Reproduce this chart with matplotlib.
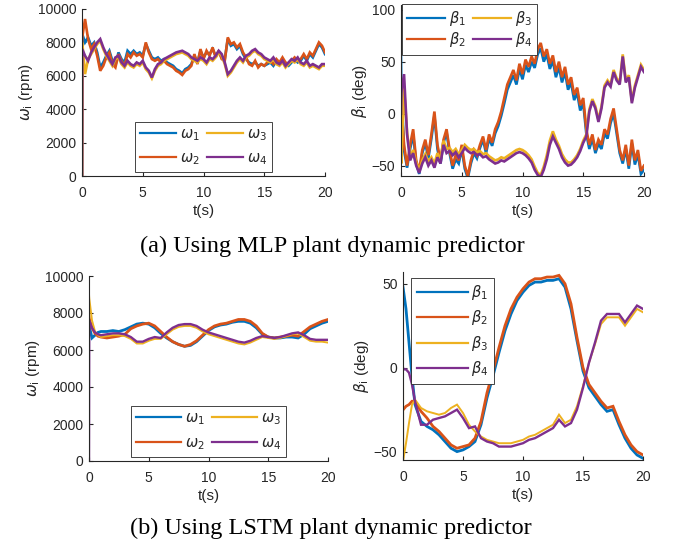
import matplotlib
matplotlib.use("Agg")
import matplotlib.pyplot as plt
import numpy as np

# ---- time grids ----
T_MLP = np.concatenate([[0, 0.02], np.arange(0.25, 20.01, 0.25)])
T_LSTM = np.concatenate([[0, 0.02, 0.25, 0.5, 0.75, 1.0], np.arange(1.5, 20.01, 0.5)])

# ---- (a) MLP: rotor speeds (rpm) ----
mlp_w1 = [0, 8500,
          8000, 8300, 7800, 8000, 7400, 6500, 6800, 7200, 7500, 6900, 6600, 7400,
          7000, 6800, 7500, 7300, 7500, 7300, 7400, 7200, 7900, 7500, 7100, 7000,
          7100, 6900, 7000, 6800, 6700, 6600, 6400, 6300, 6150, 6400, 6500, 6700,
          7200, 6800, 7500, 7100, 7400, 7300, 7600, 7200, 7400, 7100, 7000, 8200,
          7800, 7900, 7600, 7800, 7300, 7000, 6800, 6700, 6800, 6600, 6700, 6600,
          6700, 6800, 6600, 6900, 6700, 7000, 6700, 6600, 6800, 7000, 6800, 6900,
          7200, 6900, 7300, 7100, 7500, 7900, 7700, 7300]
mlp_w2 = [0, 8300,
          9400, 8200, 7600, 7900, 7200, 6300, 6600, 7100, 7400, 6700, 6500, 7300,
          6900, 6600, 7300, 7100, 7400, 7200, 7300, 7100, 8000, 7400, 7000, 6900,
          7000, 6800, 6900, 6700, 6600, 6500, 6300, 6200, 6050, 6300, 6400, 6600,
          7300, 6700, 7600, 7000, 7500, 7200, 7700, 7100, 7500, 7000, 6900, 8300,
          7900, 8000, 7700, 7900, 7400, 7100, 6700, 6600, 6900, 6500, 6700, 6600,
          6800, 6900, 6700, 7000, 6800, 7100, 6800, 6700, 6900, 7100, 6900, 7000,
          7300, 7000, 7400, 7200, 7600, 8000, 7800, 7400]
mlp_w3 = [0, 8000,
          6100, 7000, 7300, 7600, 7900, 8100, 7600, 7200, 6900, 6600, 7000, 7100,
          6700, 6500, 6800, 6600, 6500, 6700, 6600, 6800, 6400, 6200, 5850, 6300,
          6600, 6700, 6900, 7000, 7100, 7200, 7300, 7350, 7400, 7300, 7200, 7000,
          6900, 6800, 7000, 6900, 6700, 7000, 6900, 7100, 7400, 7200, 6700, 6000,
          6200, 6500, 6800, 7000, 6800, 7100, 7200, 7400, 7500, 7300, 7200, 7000,
          6900, 6800, 7000, 6700, 6600, 6800, 6500, 6700, 6900, 6800, 7000, 6700,
          6600, 6800, 6500, 6600, 6500, 6400, 6600, 6600]
mlp_w4 = [0, 7600,
          7200, 6900, 7400, 7700, 8000, 8200, 7700, 7300, 7000, 6700, 7100, 7200,
          6800, 6600, 6900, 6700, 6600, 6800, 6700, 6900, 6500, 6300, 5900, 6400,
          6700, 6800, 7000, 7100, 7200, 7300, 7400, 7450, 7500, 7400, 7300, 7100,
          7000, 6900, 7100, 7000, 6800, 7100, 7000, 7200, 7500, 7300, 6800, 6100,
          6300, 6600, 6900, 7100, 6900, 7200, 7300, 7500, 7600, 7400, 7300, 7100,
          7000, 6900, 7100, 6800, 6700, 6900, 6600, 6800, 7000, 6900, 7100, 6800,
          6700, 6900, 6600, 6700, 6600, 6500, 6700, 6700]

# ---- (a) MLP: tilt angles (deg) ----
mlp_b1 = [55, 30,
          -35, -52, -34, -20, -48, -58, -38, -28, -43, -24, -2, -34,
          -48, -28, -18, -38, -53, -44, -48, -34, -53, -62, -48, -38,
          -43, -33, -25, -38, -24, -31, -19, -12, -2, 10, 23, 30,
          37, 28, 43, 33, 47, 40, 50, 44, 57, 63, 50, 57,
          43, 51, 35, 45, 30, 40, 23, 30, 13, 20, 3, 10,
          -19, -34, -24, -38, -29, -34, -19, -24, -9, 0, -19, -38,
          -48, -34, -53, -29, -49, -39, -58, -54]
mlp_b2 = [20, 10,
          -30, -50, -30, -15, -45, -55, -35, -25, -40, -20, 2, -30,
          -45, -25, -15, -35, -50, -40, -45, -30, -50, -60, -45, -35,
          -40, -30, -22, -35, -20, -28, -15, -8, 2, 15, 28, 35,
          42, 32, 48, 38, 52, 45, 55, 48, 62, 68, 55, 62,
          48, 56, 40, 50, 35, 45, 28, 35, 18, 25, 8, 15,
          -15, -30, -20, -35, -25, -30, -15, -20, -5, 5, -15, -35,
          -45, -30, -50, -25, -45, -35, -55, -50]
mlp_b3 = [0, -48,
          25, -18, -42, -35, -47, -54, -45, -39, -46, -42, -48, -38,
          -44, -26, -34, -33, -37, -34, -39, -35, -30, -33, -35, -34,
          -37, -36, -39, -38, -41, -43, -45, -44, -42, -43, -41, -39,
          -37, -35, -34, -35, -37, -40, -44, -51, -57, -59, -51, -40,
          -26, -17, -25, -31, -39, -44, -47, -47, -44, -40, -34, -26,
          -20, 4, 14, 7, -6, 7, 27, 32, 28, 42, 34, 30,
          57, 32, 37, 12, 27, 37, 47, 42]
mlp_b4 = [0, 20,
          38, -20, -45, -38, -50, -57, -48, -42, -50, -45, -52, -42,
          -48, -30, -38, -36, -40, -37, -42, -38, -33, -36, -38, -37,
          -40, -39, -42, -41, -44, -46, -48, -47, -45, -46, -44, -42,
          -40, -38, -37, -38, -40, -43, -47, -54, -59, -61, -54, -44,
          -30, -22, -28, -34, -42, -47, -50, -49, -46, -42, -36, -28,
          -22, 2, 12, 5, -8, 5, 25, 30, 26, 40, 32, 28,
          55, 30, 35, 10, 25, 35, 45, 40]

# ---- (b) LSTM: rotor speeds (rpm) ----
lstm_w1 = [7500, 7300, 6650, 6800, 6950, 7000,
           7000, 7050, 7000, 7100, 7250, 7400, 7450, 7400, 7200, 6900,
           6650, 6450, 6300, 6200, 6250, 6450, 6750, 7050, 7250, 7350,
           7400, 7500, 7550, 7550, 7450, 7200, 6850, 6700, 6650, 6650,
           6700, 6700, 6650, 6850, 7150, 7300, 7450, 7550]
lstm_w2 = [7800, 7700, 7200, 6900, 6750, 6700,
           6650, 6700, 6750, 6850, 7150, 7300, 7400, 7450, 7300, 7000,
           6700, 6450, 6300, 6200, 6300, 6500, 6800, 7100, 7300, 7400,
           7450, 7550, 7650, 7650, 7550, 7300, 6900, 6700, 6650, 6700,
           6750, 6800, 6750, 7000, 7250, 7400, 7550, 7650]
lstm_w3 = [9000, 8800, 7600, 7000, 6800, 6700,
           6750, 6800, 6800, 6750, 6600, 6350, 6350, 6500, 6600, 6600,
           6850, 7100, 7250, 7300, 7300, 7200, 7000, 6850, 6750, 6650,
           6550, 6450, 6350, 6300, 6400, 6550, 6700, 6650, 6600, 6650,
           6750, 6850, 6900, 6700, 6500, 6450, 6450, 6400]
lstm_w4 = [0, 7600, 7200, 6950, 6850, 6800,
           6850, 6900, 6900, 6850, 6700, 6450, 6450, 6600, 6700, 6650,
           6950, 7200, 7350, 7400, 7400, 7300, 7100, 6950, 6850, 6750,
           6650, 6550, 6450, 6400, 6500, 6650, 6750, 6700, 6650, 6700,
           6800, 6900, 6950, 6800, 6600, 6550, 6550, 6550]

# ---- (b) LSTM: tilt angles (deg) ----
lstm_b1 = [48, 47, 35, 15, -5, -22,
           -32, -35, -37, -40, -44, -48, -50, -49, -47, -44,
           -34, -18, -5, 9, 22, 32, 40, 45, 49, 51,
           51, 52, 52, 53, 48, 35, 16, -2, -12, -17,
           -22, -26, -25, -34, -42, -48, -52, -54]
lstm_b2 = [-25, -25, -23, -22, -20, -20,
           -26, -30, -35, -38, -42, -46, -48, -47, -46, -42,
           -32, -15, -2, 12, 25, 35, 42, 47, 51, 53,
           53, 54, 54, 55, 50, 38, 18, 0, -10, -15,
           -20, -24, -23, -32, -40, -46, -50, -52]
lstm_b3 = [0, -55, -45, -33, -22, -19,
           -24, -26, -27, -28, -27, -24, -22, -27, -34, -38,
           -41, -43, -44, -45, -45, -45, -44, -43, -41, -40,
           -38, -36, -34, -28, -33, -31, -23, -11, 3, 14,
           26, 30, 30, 30, 25, 30, 35, 33]
lstm_b4 = [0, -1, -1, -3, -10, -20,
           -34, -34, -31, -30, -29, -27, -25, -30, -36, -35,
           -42, -44, -45, -47, -47, -47, -46, -45, -43, -42,
           -40, -38, -36, -31, -35, -33, -25, -12, 3, 15,
           28, 32, 32, 32, 27, 32, 37, 35]

COLORS = ['#0072BD', '#D95319', '#EDB120', '#7E2F8E']
INK = '#262626'
W, H = 681, 554


def rect(left, right, top, bottom):
    # pixel box -> figure fraction
    return [left / W, 1 - bottom / H, (right - left) / W, (bottom - top) / H]


def style_axes(ax, xlabel, ylabel):
    ax.spines['top'].set_visible(False)
    ax.spines['right'].set_visible(False)
    for s in ('left', 'bottom'):
        ax.spines[s].set_color(INK)
        ax.spines[s].set_linewidth(0.8)
    ax.tick_params(direction='in', length=3, width=0.8, colors=INK,
                   labelsize=10, pad=4)
    ax.tick_params(axis='x', pad=7)
    ax.set_xlim(0, 20)
    ax.set_xticks([0, 5, 10, 15, 20])
    ax.set_xlabel(xlabel, fontsize=11, color=INK, labelpad=3)
    ax.set_ylabel(ylabel, fontsize=11, color=INK, labelpad=2)


def draw_panel(ax, t, series, labels, lws):
    for y, c, lab, lw in zip(series, COLORS, labels, lws):
        ax.plot(t, y, color=c, lw=lw, label=lab, solid_joinstyle='miter')


def make_legend(ax, ncol, loc, anchor, hl, rowgap):
    leg = ax.legend(ncol=ncol, loc=loc, bbox_to_anchor=anchor, fontsize=10.5,
                    handlelength=hl, handletextpad=0.25, columnspacing=0.5,
                    labelspacing=rowgap, borderpad=0.35, borderaxespad=0,
                    fancybox=False, framealpha=1, edgecolor=INK)
    leg.get_frame().set_linewidth(0.6)
    for line in leg.get_lines():
        line.set_linewidth(1.6)
    for txt in leg.get_texts():
        txt.set_color(INK)
    return leg


def generate_plot():
    plt.rcParams['font.family'] = ['Liberation Sans', 'DejaVu Sans']
    fig = plt.figure(figsize=(W / 100, H / 100), dpi=100)

    w_labels = [r'$\omega_1$', r'$\omega_2$', r'$\omega_3$', r'$\omega_4$']
    b_labels = [r'$\beta_1$', r'$\beta_2$', r'$\beta_3$', r'$\beta_4$']

    # (a) left
    ax = fig.add_axes(rect(82, 325, 9, 176))
    draw_panel(ax, T_MLP, [mlp_w1, mlp_w2, mlp_w3, mlp_w4], w_labels, [1.9] * 4)
    style_axes(ax, 't(s)', r'$\omega_{\rm i}$ (rpm)')
    ax.set_ylim(0, 10000)
    ax.set_yticks([0, 2000, 4000, 6000, 8000, 10000])
    make_legend(ax, 2, 'lower center', (0.5, 0.025), 2.5, 0.55)

    # (a) right
    ax = fig.add_axes(rect(401, 644, 5, 176))
    draw_panel(ax, T_MLP, [mlp_b1, mlp_b2, mlp_b3, mlp_b4], b_labels, [1.9] * 4)
    style_axes(ax, 't(s)', r'$\beta_{\rm i}$ (deg)')
    ax.set_ylim(-60, 104.5)
    ax.set_yticks([-50, 0, 50, 100])
    make_legend(ax, 2, 'upper left', (0.005, 1.005), 2.6, 0.15)

    # (b) left
    ax = fig.add_axes(rect(89, 328, 276, 461))
    draw_panel(ax, T_LSTM, [lstm_w1, lstm_w2, lstm_w3, lstm_w4], w_labels,
               [2.0, 2.0, 1.4, 1.7])
    style_axes(ax, 't(s)', r'$\omega_{\rm i}$ (rpm)')
    ax.set_ylim(0, 10000)
    ax.set_yticks([0, 2000, 4000, 6000, 8000, 10000])
    make_legend(ax, 2, 'lower center', (0.5, 0.02), 3.1, 0.65)

    # (b) right
    ax = fig.add_axes(rect(403, 643, 272, 460))
    draw_panel(ax, T_LSTM, [lstm_b1, lstm_b2, lstm_b3, lstm_b4], b_labels,
               [2.0, 2.0, 1.4, 1.7])
    style_axes(ax, 't(s)', r'$\beta_{\rm i}$ (deg)')
    ax.set_ylim(-55, 57)
    ax.set_yticks([-50, 0, 50])
    make_legend(ax, 1, 'upper left', (0.035, 0.97), 3.5, 0.45)

    # captions
    fig.text(332 / W, 1 - 246 / H, '(a) Using MLP plant dynamic predictor',
             ha='center', va='center', fontsize=17.5, family='Liberation Serif')
    fig.text(331 / W, 1 - 528 / H, '(b) Using LSTM plant dynamic predictor',
             ha='center', va='center', fontsize=17.5, family='Liberation Serif')

    fig.savefig('out.png', dpi=100)


if __name__ == "__main__":
    generate_plot()
